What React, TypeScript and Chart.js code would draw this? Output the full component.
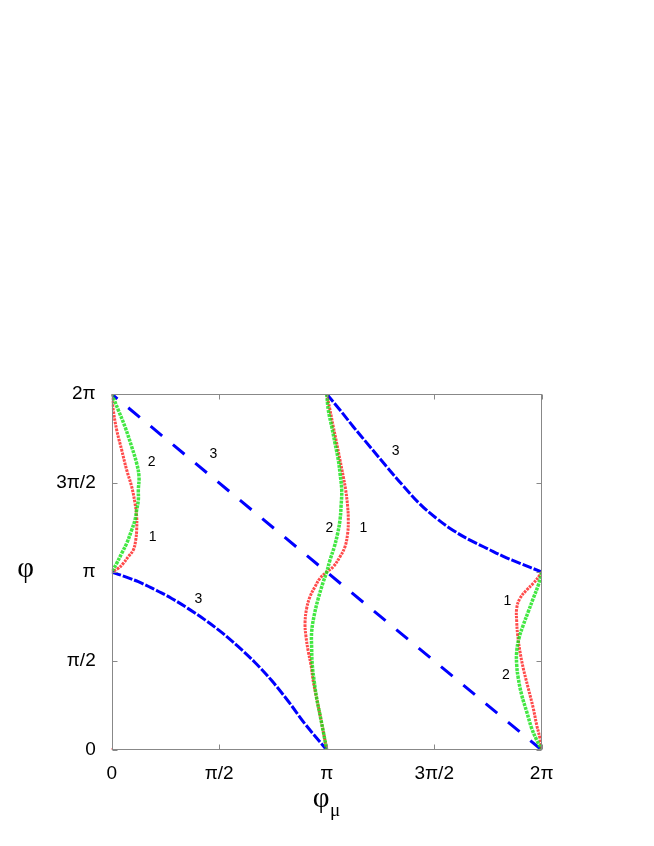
import { useEffect, useRef } from "react";
import { Chart, registerables } from "chart.js";

Chart.register(...registerables);

const PI = Math.PI;

// axis ticks
const tickValues = [0, PI / 2, PI, (3 * PI) / 2, 2 * PI];
const tickLabels = ["0", "π/2", "π", "3π/2", "2π"];

// curve 3 (blue)
const blueDiagonal: [number, number][] = [
  [0, 6.283],
  [6.283, 0],
];
const blueLower: [number, number][] = [
  [0, 3.142], [0.194, 3.059], [0.389, 2.97], [0.633, 2.83], [0.877, 2.675],
  [1.119, 2.495], [1.363, 2.297], [1.607, 2.075], [1.85, 1.823], [2.094, 1.545],
  [2.338, 1.225], [2.58, 0.86], [2.825, 0.46], [3.142, 0],
];
const blueUpper: [number, number][] = [
  [3.142, 6.283], [3.336, 6.001], [3.53, 5.706], [3.774, 5.353], [4.018, 5.0],
  [4.261, 4.66], [4.505, 4.34], [4.749, 4.085], [4.991, 3.875], [5.236, 3.703],
  [5.48, 3.56], [5.722, 3.418], [5.966, 3.295], [6.283, 3.142],
];

// curve 1 (red)
const redLeft: [number, number][] = [
  [0, 6.283], [0.023, 6.001], [0.073, 5.648], [0.146, 5.295], [0.219, 4.942],
  [0.292, 4.647], [0.34, 4.359], [0.365, 4.118], [0.365, 3.883], [0.351, 3.706],
  [0.316, 3.53], [0.243, 3.412], [0.17, 3.295], [0.096, 3.207], [0, 3.142],
];
const redMiddle: [number, number][] = [
  [3.142, 6.283], [3.19, 6.001], [3.238, 5.706], [3.288, 5.413], [3.336, 5.118],
  [3.384, 4.824], [3.419, 4.589], [3.448, 4.294], [3.457, 4.059], [3.448, 3.825],
  [3.409, 3.588], [3.336, 3.412], [3.238, 3.235], [3.142, 3.142], [3.044, 3.03],
  [2.971, 2.882], [2.898, 2.706], [2.849, 2.501], [2.825, 2.236], [2.839, 2.0],
  [2.873, 1.735], [2.912, 1.5], [2.946, 1.205], [2.995, 0.912], [3.044, 0.618],
  [3.092, 0.323], [3.142, 0],
];
const redRight: [number, number][] = [
  [6.283, 3.142], [6.258, 3.089], [6.16, 2.942], [6.064, 2.824], [5.966, 2.677],
  [5.918, 2.501], [5.918, 2.264], [5.932, 2.03], [5.966, 1.735], [6.014, 1.442],
  [6.087, 1.089], [6.16, 0.736], [6.21, 0.441], [6.258, 0.206], [6.283, 0],
];

// curve 2 (green)
const greenLeft: [number, number][] = [
  [0, 6.283], [0.096, 6.001], [0.194, 5.706], [0.292, 5.353], [0.365, 5.06],
  [0.399, 4.824], [0.389, 4.589], [0.389, 4.412], [0.365, 4.236], [0.34, 4.059],
  [0.292, 3.883], [0.219, 3.648], [0.146, 3.472], [0.073, 3.295], [0, 3.142],
];
const greenMiddle: [number, number][] = [
  [3.142, 6.283], [3.165, 6.001], [3.215, 5.706], [3.263, 5.413], [3.311, 5.118],
  [3.336, 4.884], [3.361, 4.589], [3.351, 4.294], [3.336, 4.059], [3.302, 3.825],
  [3.253, 3.588], [3.19, 3.353], [3.142, 3.142], [3.092, 2.97], [3.019, 2.677],
  [2.96, 2.383], [2.922, 2.088], [2.922, 1.795], [2.931, 1.5], [2.96, 1.205],
  [2.995, 0.912], [3.044, 0.618], [3.092, 0.323], [3.142, 0],
];
const greenRight: [number, number][] = [
  [6.283, 3.142], [6.234, 2.912], [6.16, 2.677], [6.087, 2.441], [6.014, 2.206],
  [5.951, 1.971], [5.918, 1.735], [5.918, 1.5], [5.941, 1.265], [5.991, 0.971],
  [6.064, 0.676], [6.137, 0.383], [6.21, 0.176], [6.283, 0],
];

const originPoint: [number, number][] = [[0, 0]];

// curve labels
const curveLabelText = ["3", "3", "3", "2", "1", "2", "1", "1", "2"];
const curveLabelX = [1.265, 1.485, 4.15, 0.584, 0.599, 3.18, 3.676, 5.781, 5.761];
const curveLabelY = [2.66, 5.224, 5.277, 5.088, 3.765, 3.923, 3.913, 2.635, 1.324];

const toXY = (arr: [number, number][]) => arr.map(([x, y]) => ({ x, y }));

const BLUE = "#0000ff";
const RED = "rgba(255,30,30,0.8)";
const GREEN = "rgba(20,225,20,0.8)";

const decorPlugin = {
  id: "decor",
  afterDraw(chart: any) {
    const { ctx, chartArea: a, scales } = chart;
    const xs = scales.x;
    const ys = scales.y;
    ctx.save();
    // frame
    ctx.strokeStyle = "#888888";
    ctx.lineWidth = 1;
    const l = Math.round(a.left) + 0.5;
    const r = Math.round(a.right) - 0.5;
    const t = Math.round(a.top) + 0.5;
    const b = Math.round(a.bottom) - 0.5;
    ctx.strokeRect(l, t, r - l, b - t);
    // inward ticks
    ctx.beginPath();
    tickValues.forEach((v) => {
      const px = Math.round(xs.getPixelForValue(v)) + 0.5;
      ctx.moveTo(px, b);
      ctx.lineTo(px, b - 5);
      ctx.moveTo(px, t);
      ctx.lineTo(px, t + 5);
      const py = Math.round(ys.getPixelForValue(v)) + 0.5;
      ctx.moveTo(l, py);
      ctx.lineTo(l + 5, py);
      ctx.moveTo(r, py);
      ctx.lineTo(r - 5, py);
    });
    ctx.stroke();
    // curve labels
    ctx.fillStyle = "#000";
    ctx.font = '14px "Liberation Sans", Arial, sans-serif';
    ctx.textAlign = "center";
    ctx.textBaseline = "middle";
    curveLabelText.forEach((s, i) => {
      ctx.fillText(s, xs.getPixelForValue(curveLabelX[i]), ys.getPixelForValue(curveLabelY[i]));
    });
    // axis titles
    ctx.textBaseline = "alphabetic";
    ctx.font = '29px "Liberation Serif", "Times New Roman", serif';
    ctx.textAlign = "center";
    ctx.fillText("φ", 25.5, 577);
    ctx.fillText("φ", 321, 807);
    ctx.textAlign = "left";
    ctx.font = '19px "Liberation Serif", "Times New Roman", serif';
    ctx.fillText("μ", 330, 816);
    ctx.restore();
  },
};

export default function App() {
  const canvasRef = useRef<HTMLCanvasElement | null>(null);

  useEffect(() => {
    const canvas = canvasRef.current;
    if (!canvas) return;
    const lineDs = (data: [number, number][], color: string, width: number, dash: number[], order: number, tension = 0.4, dashOffset = 0) => ({
      data: toXY(data),
      showLine: true,
      borderColor: color,
      backgroundColor: color,
      borderWidth: width,
      borderDash: dash,
      borderDashOffset: dashOffset,
      pointRadius: 0,
      tension,
      cubicInterpolationMode: "default",
      order,
      fill: false,
    });
    const chart = new Chart(canvas, {
      type: "scatter",
      data: {
        datasets: [
          lineDs(blueDiagonal, BLUE, 3, [15, 14], 3, 0, 7.5),
          lineDs(blueLower, BLUE, 3, [10, 2], 3),
          lineDs(blueUpper, BLUE, 3, [10, 2], 3),
          lineDs(redLeft, RED, 3, [2.5, 1], 2),
          lineDs(redMiddle, RED, 3, [2.5, 1], 2),
          lineDs(redRight, RED, 3, [2.5, 1], 2),
          lineDs(greenLeft, GREEN, 3.5, [3, 1], 1),
          lineDs(greenMiddle, GREEN, 3.5, [3, 1], 1),
          lineDs(greenRight, GREEN, 3.5, [3, 1], 1),
          {
            data: toXY(originPoint),
            showLine: false,
            pointRadius: 1.5,
            borderColor: RED,
            backgroundColor: RED,
            order: 0,
          } as any,
        ],
      },
      options: {
        responsive: false,
        animation: false,
        devicePixelRatio: 1,
        elements: { line: { tension: 0.4, cubicInterpolationMode: "default" } },
        layout: { padding: { left: 0, top: 394, right: 112.3, bottom: 0 } },
        plugins: { legend: { display: false }, tooltip: { enabled: false } },
        scales: {
          x: {
            type: "linear",
            min: 0,
            max: 2 * PI,
            afterBuildTicks: (s: any) => {
              s.ticks = tickValues.map((v) => ({ value: v }));
            },
            afterFit: (s: any) => {
              s.height = 96;
            },
            grid: { display: false, drawTicks: false },
            border: { display: false },
            ticks: {
              autoSkip: false,
              maxRotation: 0,
              padding: 12,
              color: "#000",
              font: { family: '"Liberation Sans", Arial, sans-serif', size: 19 },
              callback: (v: any) => {
                const i = tickValues.findIndex((t) => Math.abs(t - Number(v)) < 1e-6);
                return i >= 0 ? tickLabels[i] : "";
              },
            },
          },
          y: {
            type: "linear",
            min: 0,
            max: 2 * PI,
            afterBuildTicks: (s: any) => {
              s.ticks = tickValues.map((v) => ({ value: v }));
            },
            afterFit: (s: any) => {
              s.width = 111.7;
            },
            grid: { display: false, drawTicks: false },
            border: { display: false },
            ticks: {
              autoSkip: false,
              padding: 16,
              color: "#000",
              font: { family: '"Liberation Sans", Arial, sans-serif', size: 19 },
              callback: (v: any) => {
                const i = tickValues.findIndex((t) => Math.abs(t - Number(v)) < 1e-6);
                return i >= 0 ? tickLabels[i] : "";
              },
            },
          },
        },
      } as any,
      plugins: [decorPlugin],
    });
    return () => chart.destroy();
  }, []);

  return (
    <canvas
      ref={canvasRef}
      width={654}
      height={846}
      style={{ position: "absolute", left: 0, top: 0, width: 654, height: 846, display: "block" }}
    />
  );
}
